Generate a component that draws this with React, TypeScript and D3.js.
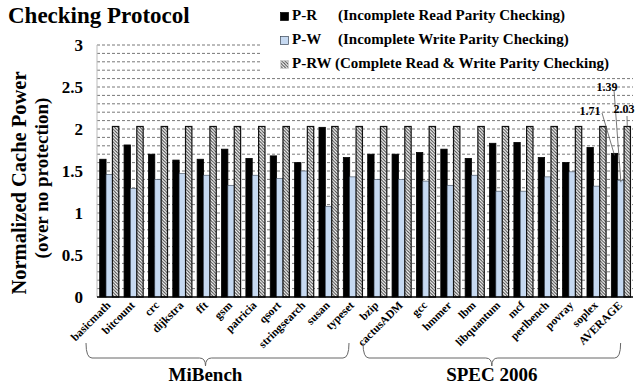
import React from "react";
import * as d3 from "d3";

const categories = ["basicmath","bitcount","crc","dijkstra","fft","gsm","patricia","qsort","stringsearch","susan","typeset","bzip","cactusADM","gcc","hmmer","lbm","libquantum","mcf","perlbench","povray","soplex","AVERAGE"];
const pR = [1.64,1.81,1.70,1.63,1.64,1.76,1.65,1.68,1.60,2.02,1.66,1.70,1.70,1.72,1.76,1.65,1.83,1.84,1.66,1.60,1.78,1.71];
const pW = [1.46,1.29,1.40,1.47,1.45,1.33,1.45,1.41,1.50,1.08,1.43,1.40,1.40,1.38,1.33,1.45,1.26,1.26,1.43,1.49,1.32,1.39];
const pRW = [2.03,2.03,2.03,2.03,2.03,2.03,2.03,2.03,2.03,2.03,2.03,2.03,2.03,2.03,2.03,2.03,2.03,2.03,2.03,2.03,2.03,2.03];
const seriesNames = ["P-R","P-W","P-RW"];
const legendDesc = ["(Incomplete Read Parity Checking)","(Incomplete Write Parity Checking)","(Complete Read & Write Parity Checking)"];
const yTicks = [0,0.5,1,1.5,2,2.5,3];
const groups = [{name:"MiBench", from:0, to:10},{name:"SPEC 2006", from:11, to:21}];

const W = 638, H = 387;
const FONT = "'Liberation Serif','Times New Roman',serif";

export default function App() {
  const left = 97, right = 633, top = 45, bottom = 297;
  const x0 = d3.scaleBand<string>().domain(categories).range([left, right]).padding(0);
  const x1 = d3.scaleBand<string>().domain(seriesNames).range([2.7, 21.8]).padding(0);
  const y = d3.scaleLinear().domain([0, 3]).range([bottom, top]);
  const grid = d3.range(1, 31).map(i => i / 10);
  const data = [pR, pW, pRW];
  const fills = ["#000000", "#c6d9f1", "url(#hatch)"];
  const strokes = ["#000000", "#3a4656", "#111111"];
  const sw = [0.8, 0.6, 1.2];

  const bracePath = (a: number, b: number, m: number) => {
    const yt = 343, yl = 358, yd = 366, r = 6;
    return `M${a},${yt} Q${a},${yl} ${a + r},${yl} L${m - r},${yl} Q${m},${yl} ${m},${yd} Q${m},${yl} ${m + r},${yl} L${b - r},${yl} Q${b},${yl} ${b},${yt}`;
  };

  const avgIdx = categories.length - 1;
  const avgX = x0(categories[avgIdx])!;
  const cx = (s: number) => avgX + x1(seriesNames[s])! + x1.bandwidth() / 2;

  return (
    <svg width={W} height={H} style={{ position: "absolute", left: 0, top: 0, background: "#fff" }} fontFamily={FONT}>
      <defs>
        <pattern id="hatch" patternUnits="userSpaceOnUse" width="3.2" height="3.2">
          <rect width="3.2" height="3.2" fill="#fff" />
          <path d="M-0.8,-0.8 L4,4 M-0.8,2.4 L0.8,4 M2.4,-0.8 L4,0.8" stroke="#444" strokeWidth="1" />
        </pattern>
      </defs>
      {grid.map((g, i) => (
        <line key={i} x1={left} x2={right} y1={y(g)} y2={y(g)} stroke="#555" strokeWidth={0.8} strokeDasharray="3,2" />
      ))}
      <line x1={left} x2={left} y1={top} y2={bottom} stroke="#bbb" strokeWidth={1} />
      <rect x={260} y={0} width={378} height={74} fill="#fff" />
      {categories.map((c, i) => (
        <g key={c}>
          {data.map((arr, s) => (
            <rect key={s} x={x0(c)! + x1(seriesNames[s])!} y={y(arr[i])} width={x1.bandwidth()} height={y(0) - y(arr[i])}
              fill={fills[s]} stroke={strokes[s]} strokeWidth={sw[s]} />
          ))}
        </g>
      ))}
      <line x1={left} x2={right} y1={bottom} y2={bottom} stroke="#000" strokeWidth={1.5} />
      {yTicks.map(t => (
        <text key={t} x={83} y={y(t)} dy="0.35em" textAnchor="end" fontSize={17} fontWeight="bold">{t}</text>
      ))}
      <text transform={`translate(26,${183}) rotate(-90)`} textAnchor="middle" fontSize={20.5} fontWeight="bold">Normalized Cache Power</text>
      <text transform={`translate(48,${178}) rotate(-90)`} textAnchor="middle" fontSize={19} fontWeight="bold">(over no protection)</text>
      {categories.map(c => {
        const xc = x0(c)! + x0.bandwidth() / 2 + 2;
        return (
          <text key={c} transform={`translate(${xc},${306}) rotate(-45)`} textAnchor="end" fontSize={11.5} fontWeight="bold">{c}</text>
        );
      })}
      {groups.map(g => {
        const a = g.from === 0 ? 86 : x0(categories[g.from])! - 2;
        const b = g.from === 0 ? 349 : x0(categories[g.to])! + 12;
        const m = (a + b) / 2 - (g.from === 0 ? 12 : 0);
        return (
          <g key={g.name}>
            <path d={bracePath(a, b, m)} fill="none" stroke="#666" strokeWidth={1} />
            <text x={m} y={381} textAnchor="middle" fontSize={19} fontWeight="bold">{g.name}</text>
          </g>
        );
      })}
      <text x={8} y={23} fontSize={23} fontWeight="bold">Checking Protocol</text>
      {seriesNames.map((s, i) => (
        <g key={s}>
          <rect x={280.5} y={12.5 + i * 24} width={8} height={8} fill={fills[i]} stroke={i === 2 ? "#ccc" : i === 1 ? "#3a4656" : "#000"} strokeWidth={0.7} />
          <text x={292} y={20 + i * 24} fontSize={15} fontWeight="bold">{s}</text>
          <text x={i === 2 ? 335 : 338} y={20 + i * 24} fontSize={15} fontWeight="bold">{legendDesc[i]}</text>
        </g>
      ))}
      <line x1={614} y1={90} x2={cx(1)} y2={y(pW[avgIdx]) + 2} stroke="#555" strokeWidth={0.8} />
      <line x1={602} y1={113} x2={cx(0)} y2={y(pR[avgIdx]) + 2} stroke="#555" strokeWidth={0.8} />
      <line x1={627} y1={116} x2={cx(2)} y2={y(pRW[avgIdx])} stroke="#555" strokeWidth={0.8} />
      <text x={607} y={91} textAnchor="middle" fontSize={12} fontWeight="bold">{pW[avgIdx].toFixed(2)}</text>
      <text x={590} y={115} textAnchor="middle" fontSize={12} fontWeight="bold">{pR[avgIdx].toFixed(2)}</text>
      <text x={624} y={113} textAnchor="middle" fontSize={12} fontWeight="bold">{pRW[avgIdx].toFixed(2)}</text>
    </svg>
  );
}
